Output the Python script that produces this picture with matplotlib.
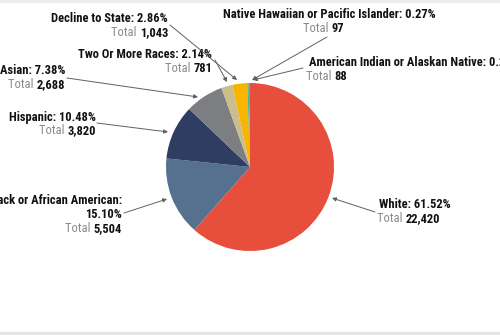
import matplotlib
matplotlib.use("Agg")
import matplotlib.pyplot as plt
from matplotlib.patches import Rectangle
from matplotlib import font_manager

# ---- data ----
categories = ["White", "Black or African American", "Hispanic", "Asian",
              "Two Or More Races", "Decline to State",
              "Native Hawaiian or Pacific Islander", "American Indian or Alaskan Native"]
percents = ["61.52%", "15.10%", "10.48%", "7.38%", "2.14%", "2.86%", "0.27%", "0.24%"]
totals = [22420, 5504, 3820, 2688, 781, 1043, 97, 88]
colors = ["#E84E3C", "#56708F", "#2F3D63", "#7C7E82", "#CBBE8E", "#F7B500", "#3DB59B", "#5BA7D8"]

W, H = 500, 335
fig = plt.figure(figsize=(W / 100, H / 100), dpi=100)
ax = fig.add_axes([0, 0, 1, 1])

def P(x, y):
    return (x, H - y)

cx, cy = P(250, 167)
ax.pie(totals, colors=colors, startangle=90, counterclock=False,
       center=(cx, cy), radius=84, wedgeprops=dict(linewidth=0))
ax.set_xlim(0, W)
ax.set_ylim(0, H)
ax.set_aspect("equal")
ax.axis("off")

def wnum(w):
    if isinstance(w, (int, float)):
        return int(w)
    return {"bold": 700, "semibold": 600, "demibold": 600, "heavy": 800,
            "black": 900, "extra bold": 800}.get(str(w).lower(), 400)

entries = font_manager.fontManager.ttflist
def has_bold(name):
    return any(f.name == name and wnum(f.weight) >= 600 for f in entries)

fam = None
for cand in ["Liberation Sans Narrow", "Arial Narrow", "Arimo Narrow", "Roboto Condensed",
             "Archivo Narrow", "PT Sans Narrow", "Pragati Narrow", "Encode Sans Condensed",
             "Open Sans Condensed", "Fira Sans Condensed", "IBM Plex Sans Condensed",
             "Barlow Semi Condensed", "Asap Condensed", "Sofia Sans Condensed",
             "Saira Semi Condensed"]:
    if has_bold(cand):
        fam = cand
        break
if fam is None:
    fam = "Liberation Sans"
    FS = 7.8
else:
    FS = 9
fig.canvas.draw()
renderer = fig.canvas.get_renderer()

def text_width(t):
    bb = t.get_window_extent(renderer=renderer)
    return bb.width

def total_line(x, y, num, ha):
    numtxt = f"{num:,}"
    if ha == "right":
        t2 = ax.text(*P(x, y), numtxt, ha="right", va="center", fontsize=FS,
                     fontweight="bold", family=fam, color="#111111")
        w = text_width(t2)
        ax.text(*P(x - w, y), "Total ", ha="right", va="center", fontsize=FS,
                family=fam, color="#8a8a8a")
    else:
        t1 = ax.text(*P(x, y), "Total ", ha="left", va="center", fontsize=FS,
                     family=fam, color="#8a8a8a")
        w = text_width(t1)
        ax.text(*P(x + w, y), numtxt, ha="left", va="center", fontsize=FS,
                fontweight="bold", family=fam, color="#111111")

def head(x, y, s, ha):
    ax.text(*P(x, y), s, ha=ha, va="center", fontsize=FS, fontweight="bold",
            family=fam, color="#111111")

def arrow(x0, y0, x1, y1):
    ax.annotate("", xy=P(x1, y1), xytext=P(x0, y0),
                arrowprops=dict(arrowstyle="-|>", color="#606060", lw=0.7,
                                mutation_scale=6, shrinkA=0, shrinkB=0))

# White
head(379, 204, f"{categories[0]}: {percents[0]}", "left")
total_line(377, 219, totals[0], "left")
arrow(375, 212, 332, 198)
# Black
head(122, 200, f"{categories[1]}:", "right")
head(122, 214, percents[1], "right")
total_line(122, 229, totals[1], "right")
arrow(124, 213, 167, 199)
# Hispanic
head(96, 117, f"{categories[2]}: {percents[2]}", "right")
total_line(96, 131, totals[2], "right")
arrow(97, 123, 168, 132)
# Asian
head(65, 71, f"{categories[3]}: {percents[3]}", "right")
total_line(65, 85, totals[3], "right")
arrow(67, 78, 198, 97)
# Two or more
head(212, 54, f"{categories[4]}: {percents[4]}", "right")
total_line(212, 69, totals[4], "right")
arrow(215, 60, 227, 82)
# Decline
head(168, 19, f"{categories[5]}: {percents[5]}", "right")
total_line(168, 33, totals[5], "right")
arrow(170, 25, 237, 80)
# Native Hawaiian
head(223, 14, f"{categories[6]}: {percents[6]}", "left")
total_line(344, 28, totals[6], "right")
arrow(327, 37, 252, 80)
# American Indian
head(309, 62, f"{categories[7]}: {percents[7]}", "left")
total_line(306, 77, totals[7], "left")
arrow(303, 68, 253, 80)

# thin border bands
fig.patches.append(Rectangle((0, 0), 1, 3 / H, transform=fig.transFigure,
                             color="#e6e6e6", zorder=0))
fig.patches.append(Rectangle((0, 1 - 1.5 / H), 1, 1.5 / H, transform=fig.transFigure,
                             color="#ececec", zorder=0))

fig.savefig("out.png", dpi=100)
